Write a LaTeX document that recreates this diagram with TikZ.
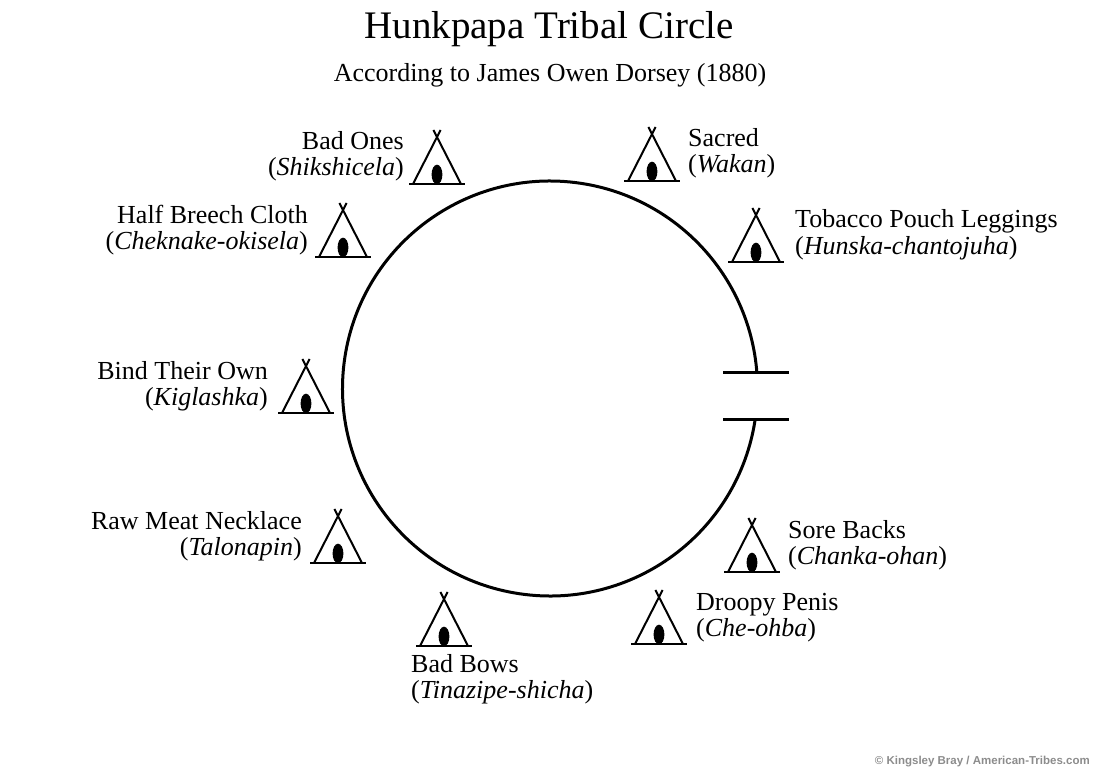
\documentclass[tikz,border=0pt]{standalone}
\usepackage{fontspec}
\setmainfont{Liberation Serif}
\newfontfamily\creditfont{Liberation Sans}

\tikzset{
	pics/tipi/.style={code={
		\draw[line width=2.8pt] (-28,0) -- (28,0);
		\draw[line width=2pt] (-24,0) -- (3.6,-54) (24,0) -- (-3.6,-54);
		\fill (0,-9.5) ellipse [x radius=5.4, y radius=9.8];
	}},
	lbl/.style={inner sep=0pt, font=\fontsize{26}{26}\selectfont},
}

\begin{document}
\begin{tikzpicture}[x=1pt, y=-1pt]
			\useasboundingbox (0,0) rectangle (1100,778);
			% title
			\node[inner sep=0pt, anchor=base, font=\fontsize{39}{39}\selectfont] (title) at (549,39) {Hunkpapa Tribal Circle};
			\node[lbl, anchor=base] (subtitle) at (550,82) {According to James Owen Dorsey (1880)};
			% camp circle with its opening
			\coordinate (centre) at (550,388.5);
			\draw[line width=3pt] (centre) ++(8.45:207.5) arc[start angle=8.45, end angle=355.44, radius=207.5];
			\draw[line width=3pt] (723,372) -- (789,372);
			\draw[line width=3pt] (723,419) -- (789,419);
			% tipis
			\foreach \n/\x/\y in {sacred/652/181, badones/437/184, halfbreech/343/257, tobacco/756/262,
				bind/306/413, rawmeat/338/563, sorebacks/752/572, droopy/659/644, badbows/444/646}
			{
				\coordinate (\n) at (\x,\y);
				\pic at (\n) {tipi};
			}
			% band names
			\foreach \n/\dx/\a/\en/\na in {sacred/36/west/Sacred/Wakan, badones/-33/east/Bad Ones/Shikshicela,
				halfbreech/-35/east/Half Breech Cloth/Cheknake-okisela, tobacco/39/west/Tobacco Pouch Leggings/Hunska-chantojuha,
				bind/-38/east/Bind Their Own/Kiglashka, rawmeat/-36/east/Raw Meat Necklace/Talonapin,
				sorebacks/36/west/Sore Backs/Chanka-ohan, droopy/37/west/Droopy Penis/Che-ohba}
			{
				\node[lbl, anchor=base \a] (\n-en) at ([shift={(\dx,-34)}]\n) {\en};
				\node[lbl, anchor=base \a] (\n-na) at ([yshift=-26pt]\n-en.base \a) {(\textit{\na})};
			}
			\node[lbl, anchor=base west] (badbows-en) at ([shift={(-33,26)}]badbows) {Bad Bows};
			\node[lbl, anchor=base west] (badbows-na) at ([yshift=-26pt]badbows-en.base west) {(\textit{Tinazipe-shicha})};
			% credit
			\node[inner sep=0pt, anchor=base east, text=black!45, font=\creditfont\bfseries\fontsize{11.5}{12}\selectfont] (credit) at (1090,764) {© Kingsley Bray / American-Tribes.com};
		\end{tikzpicture}
\end{document}
